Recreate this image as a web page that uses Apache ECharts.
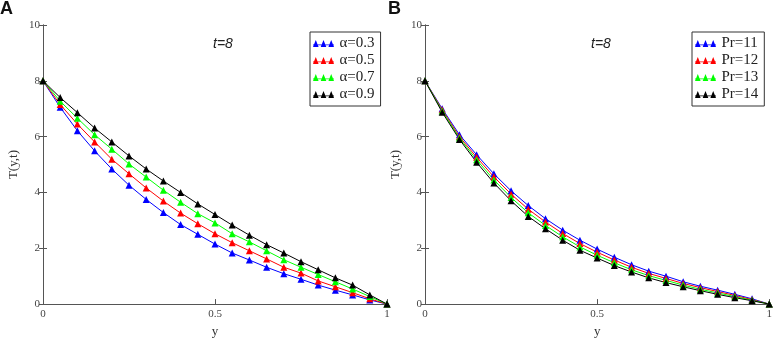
<!DOCTYPE html>
<html>
<head>
<meta charset="utf-8">
<script src="https://cdn.jsdelivr.net/npm/echarts@6/dist/echarts.min.js"></script>
<style>
  html, body { margin: 0; padding: 0; background: #fff; }
  #chart { width: 775px; height: 343px; }
</style>
</head>
<body>
<div id="chart"></div>
<script>
// y positions (x axis), shared by both panels
const yPos = [0, 0.05, 0.1, 0.15, 0.2, 0.25, 0.3, 0.35, 0.4, 0.45, 0.5,
  0.55, 0.6, 0.65, 0.7, 0.75, 0.8, 0.85, 0.9, 0.95, 1];

// panel A: T(y,t) for several alpha
const alphaNames = ["α=0.3", "α=0.5", "α=0.7", "α=0.9"];
const alpha03 = [8, 7.05, 6.21, 5.49, 4.84, 4.26, 3.75, 3.28, 2.85, 2.5, 2.15,
  1.83, 1.58, 1.32, 1.09, 0.89, 0.68, 0.5, 0.33, 0.15, 0];
const alpha05 = [8, 7.15, 6.45, 5.81, 5.19, 4.67, 4.16, 3.69, 3.26, 2.88, 2.52,
  2.2, 1.91, 1.62, 1.32, 1.11, 0.83, 0.62, 0.41, 0.19, 0];
const alpha07 = [8, 7.27, 6.66, 6.07, 5.55, 5.02, 4.55, 4.08, 3.65, 3.24, 2.91,
  2.52, 2.23, 1.91, 1.59, 1.32, 1.06, 0.8, 0.54, 0.27, 0];
const alpha09 = [8, 7.4, 6.86, 6.31, 5.81, 5.31, 4.84, 4.41, 4.0, 3.59, 3.21,
  2.83, 2.47, 2.13, 1.83, 1.52, 1.23, 0.94, 0.68, 0.33, 0];

// panel B: T(y,t) for several Pr
const prNames = ["Pr=11", "Pr=12", "Pr=13", "Pr=14"];
const pr11 = [8, 7.0, 6.07, 5.35, 4.67, 4.06, 3.53, 3.06, 2.65, 2.29, 1.97,
  1.68, 1.41, 1.18, 1.0, 0.8, 0.64, 0.5, 0.35, 0.19, 0];
const pr12 = [8, 6.96, 6.0, 5.26, 4.56, 3.94, 3.4, 2.94, 2.53, 2.17, 1.86,
  1.58, 1.32, 1.1, 0.92, 0.74, 0.59, 0.45, 0.31, 0.16, 0];
const pr13 = [8, 6.92, 5.95, 5.17, 4.45, 3.82, 3.27, 2.82, 2.41, 2.05, 1.75,
  1.48, 1.23, 1.02, 0.85, 0.68, 0.53, 0.4, 0.27, 0.14, 0];
const pr14 = [8, 6.87, 5.9, 5.08, 4.34, 3.7, 3.14, 2.7, 2.29, 1.93, 1.65,
  1.38, 1.15, 0.94, 0.77, 0.62, 0.48, 0.35, 0.23, 0.12, 0];

const colors = ["#0000ff", "#ff0000", "#00ff00", "#000000"];
const serif = "Liberation Serif";
const frame = "#555";

const tri3 = "path://M0,10L4,0L8,10ZM11,10L15,0L19,10ZM22,10L26,0L30,10ZM0,6.5L30,6.5L30,7.5L0,7.5Z";

const chart = echarts.init(document.getElementById("chart"), null, { renderer: "canvas" });

const grids = [
  { left: 43, top: 25, width: 344, height: 284 },
  { left: 425, top: 25, width: 345, height: 284 },
];

function xAxisFor(i) {
  return {
    type: "value", gridIndex: i, min: 0, max: 1, interval: 0.5,
    name: "y", nameLocation: "middle", nameGap: 18,
    nameTextStyle: { fontFamily: serif, fontSize: 13, color: "#333" },
    axisLine: { lineStyle: { color: frame, width: 1 } },
    axisTick: { inside: true, length: 5, lineStyle: { color: frame } },
    axisLabel: { fontFamily: serif, fontSize: 11, color: "#444", margin: 5,
      formatter: (v) => String(v) },
    splitLine: { show: false },
  };
}
function yAxisFor(i) {
  return {
    type: "value", gridIndex: i, min: 0, max: 10, interval: 2,
    name: "T(y,t)", nameLocation: "middle", nameGap: 23, nameRotate: 90,
    nameTextStyle: { fontFamily: serif, fontSize: 13, color: "#333" },
    axisLine: { lineStyle: { color: frame, width: 1 } },
    axisTick: { length: 4, lineStyle: { color: frame } },
    axisLabel: { fontFamily: serif, fontSize: 11, color: "#444", margin: 3 },
    splitLine: { show: false },
  };
}
function rightAxisFor(i) {
  return {
    type: "value", gridIndex: i, min: 0, max: 10, interval: 2, position: "right",
    axisLine: { show: true, lineStyle: { color: frame, width: 1 } },
    axisTick: { length: 4, lineStyle: { color: frame } },
    axisLabel: { show: false },
    splitLine: { show: false },
  };
}
function topAxisFor(i) {
  return {
    type: "value", gridIndex: i, min: 0, max: 1, interval: 0.5, position: "top",
    axisLine: { show: true, lineStyle: { color: frame, width: 1 } },
    axisTick: { show: false },
    axisLabel: { show: false },
    splitLine: { show: false },
  };
}

function makeSeries(name, values, idx, gi) {
  return {
    type: "line", name: name,
    xAxisIndex: gi * 2, yAxisIndex: gi * 2,
    data: values.map((v, k) => [yPos[k], v]),
    color: colors[idx],
    symbol: "triangle", symbolSize: 7, showSymbol: true,
    lineStyle: { width: 1, color: colors[idx] },
    itemStyle: { color: colors[idx] },
    emphasis: { disabled: true },
    animation: false,
  };
}

const seriesA = [alpha03, alpha05, alpha07, alpha09].map((d, i) => makeSeries(alphaNames[i], d, i, 0));
const seriesB = [pr11, pr12, pr13, pr14].map((d, i) => makeSeries(prNames[i], d, i, 1));

function legendFor(names, left) {
  return {
    left: left, top: 32, orient: "vertical",
    data: names.map((n) => ({ name: n, icon: tri3 })),
    itemWidth: 22, itemHeight: 7, itemGap: 2,
    padding: [4, 6, 4, 3],
    borderColor: "#333", borderWidth: 1, backgroundColor: "#fff",
    textStyle: { fontFamily: serif, fontSize: 15, color: "#222", lineHeight: 15 },
    selectedMode: false,
  };
}

chart.setOption({
  animation: false,
  title: [
    { text: "A", left: 0, top: 0, padding: 0,
      textStyle: { fontFamily: "Liberation Sans", fontWeight: "bold", fontSize: 18, color: "#111" } },
    { text: "B", left: 388, top: 0, padding: 0,
      textStyle: { fontFamily: "Liberation Sans", fontWeight: "bold", fontSize: 18, color: "#111" } },
    { text: "t=8", left: 213, top: 37, padding: 0,
      textStyle: { fontFamily: "Liberation Sans", fontStyle: "italic", fontWeight: "normal", fontSize: 14, color: "#222" } },
    { text: "t=8", left: 591, top: 37, padding: 0,
      textStyle: { fontFamily: "Liberation Sans", fontStyle: "italic", fontWeight: "normal", fontSize: 14, color: "#222" } },
  ],
  grid: grids,
  xAxis: [xAxisFor(0), topAxisFor(0), xAxisFor(1), topAxisFor(1)],
  yAxis: [yAxisFor(0), rightAxisFor(0), yAxisFor(1), rightAxisFor(1)],
  legend: [legendFor(alphaNames, 310), legendFor(prNames, 692)],
  series: seriesA.concat(seriesB),
});
</script>
</body>
</html>
